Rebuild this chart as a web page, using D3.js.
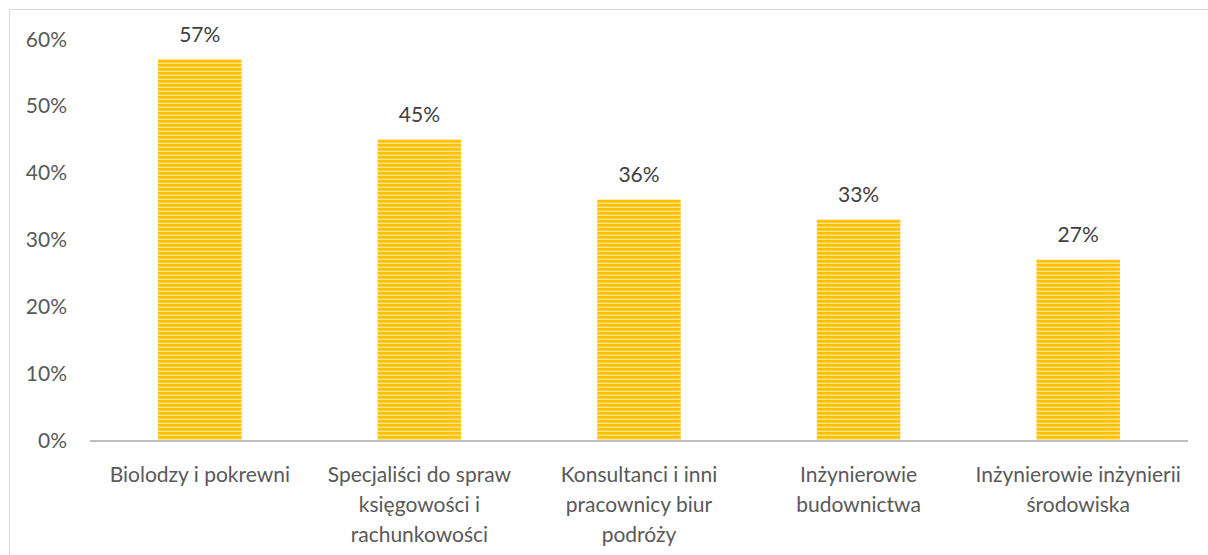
<!DOCTYPE html>
<html>
<head>
<meta charset="utf-8">
<script src="https://cdn.jsdelivr.net/npm/d3@7"></script>
<style>
  body { margin: 0; background: #fff; }
  svg { display: block; font-family: Lato, "Open Sans", sans-serif; }
</style>
</head>
<body>
<svg width="1208" height="555"></svg>
<script>
// chart data
var categories = [
  ["Biolodzy i pokrewni"],
  ["Specjaliści do spraw", "księgowości i", "rachunkowości"],
  ["Konsultanci i inni", "pracownicy biur", "podróży"],
  ["Inżynierowie", "budownictwa"],
  ["Inżynierowie inżynierii", "środowiska"]
];
var values = [0.57, 0.45, 0.36, 0.33, 0.27];
var yTicks = [0, 0.1, 0.2, 0.3, 0.4, 0.5, 0.6];

var svg = d3.select("svg"),
    width = +svg.attr("width"),
    height = +svg.attr("height");

var fontSize = 21;

// chart frame
svg.append("rect")
    .attr("x", 9.5).attr("y", 9.5)
    .attr("width", width + 20).attr("height", height)
    .attr("fill", "none")
    .attr("stroke", "#d9d9d9");

// striped fill for bars
var defs = svg.append("defs");
var pat = defs.append("pattern")
    .attr("id", "stripes")
    .attr("patternUnits", "userSpaceOnUse")
    .attr("width", 8).attr("height", 4);
pat.append("rect").attr("width", 8).attr("height", 4).attr("fill", "#ffe28a");
pat.append("rect").attr("width", 8).attr("height", 2.6).attr("fill", "#ffc000");

var x = d3.scaleBand()
    .domain(d3.range(categories.length))
    .range([90, 1188])
    .paddingInner(0.62)
    .paddingOuter(0.31);

var y = d3.scaleLinear()
    .domain([0, 0.6])
    .range([440, 39]);

// y axis labels
svg.append("g")
  .selectAll("text")
  .data(yTicks)
  .enter().append("text")
    .attr("x", 67)
    .attr("y", function(d) { return y(d); })
    .attr("dy", "0.36em")
    .attr("text-anchor", "end")
    .attr("font-size", fontSize)
    .attr("fill", "#595959")
    .text(d3.format(".0%"));

// bars
svg.append("g")
  .selectAll("rect")
  .data(values)
  .enter().append("rect")
    .attr("x", function(d, i) { return x(i); })
    .attr("y", function(d) { return y(d); })
    .attr("width", x.bandwidth())
    .attr("height", function(d) { return y(0) - y(d); })
    .attr("fill", "url(#stripes)");

// data labels
svg.append("g")
  .selectAll("text")
  .data(values)
  .enter().append("text")
    .attr("x", function(d, i) { return x(i) + x.bandwidth() / 2; })
    .attr("y", function(d) { return y(d) - 25; })
    .attr("dy", "0.36em")
    .attr("text-anchor", "middle")
    .attr("font-size", fontSize)
    .attr("fill", "#404040")
    .text(d3.format(".0%"));

// x axis line
svg.append("line")
    .attr("x1", 90).attr("x2", 1188)
    .attr("y1", y(0) + 1).attr("y2", y(0) + 1)
    .attr("stroke", "#bfbfbf")
    .attr("stroke-width", 2);

// category labels
var cat = svg.append("g")
  .selectAll("text")
  .data(categories)
  .enter().append("text")
    .attr("x", function(d, i) { return x(i) + x.bandwidth() / 2; })
    .attr("y", 474)
    .attr("text-anchor", "middle")
    .attr("font-size", fontSize)
    .attr("fill", "#595959");

cat.selectAll("tspan")
  .data(function(d) { return d; })
  .enter().append("tspan")
    .attr("x", function() { return d3.select(this.parentNode).attr("x"); })
    .attr("dy", function(d, i) { return i === 0 ? "0.36em" : 30; })
    .text(function(d) { return d; });
</script>
</body>
</html>
